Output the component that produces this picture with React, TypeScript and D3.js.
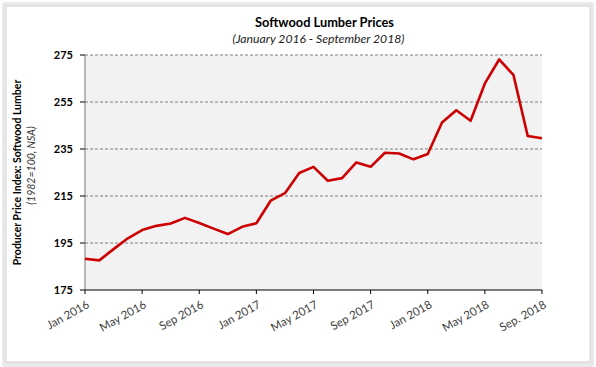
import React from "react";
import * as d3 from "d3";

const months: string[] = [
  "2016-01","2016-02","2016-03","2016-04","2016-05","2016-06","2016-07","2016-08","2016-09","2016-10","2016-11","2016-12",
  "2017-01","2017-02","2017-03","2017-04","2017-05","2017-06","2017-07","2017-08","2017-09","2017-10","2017-11","2017-12",
  "2018-01","2018-02","2018-03","2018-04","2018-05","2018-06","2018-07","2018-08","2018-09",
];
const values: number[] = [
  188.3, 187.6, 192.4, 197.0, 200.5, 202.3, 203.3, 205.7, 203.5, 201.1, 198.8, 201.9,
  203.4, 213.0, 216.2, 224.8, 227.4, 221.5, 222.6, 229.3, 227.4, 233.4, 233.1, 230.6,
  232.9, 246.3, 251.5, 247.0, 262.9, 273.1, 266.5, 240.5, 239.6,
];
const xTickIdx: number[] = [0, 4, 8, 12, 16, 20, 24, 28, 32];
const xTickLabels: string[] = ["Jan 2016","May 2016","Sep 2016","Jan 2017","May 2017","Sep 2017","Jan 2018","May 2018","Sep. 2018"];
const yTicks: number[] = [175, 195, 215, 235, 255, 275];

const W = 596, H = 367;
const left = 85, right = 542, top = 55, bottom = 290;
const FONT = "Lato, 'Open Sans', sans-serif";

export default function App() {
  const x = d3.scaleLinear().domain([0, months.length - 1]).range([left, right]);
  const y = d3.scaleLinear().domain([175, 275]).range([bottom, top]);
  const line = d3.line<number>().x((_, i) => x(i)).y((d) => y(d));
  const cy = (top + bottom) / 2;

  return (
    <svg width={W} height={H} style={{ position: "absolute", left: 0, top: 0 }} fontFamily={FONT}>
      <rect x={0} y={0} width={W} height={H} fill="#ffffff" />
      <rect x={2} y={2} width={W - 4} height={H - 2} fill="#e9e9e9" rx={3} />
      <rect x={6} y={6} width={584} height={356} fill="#ffffff" stroke="#d4d4d4" strokeWidth={1} />

      <text x={(left + right) / 2 + 11} y={27} textAnchor="middle" fontWeight="bold" fontSize={12.8} fill="#000">
        Softwood Lumber Prices
      </text>
      <text x={(left + right) / 2 + 5} y={43} textAnchor="middle" fontStyle="italic" fontSize={12.2} fill="#222">
        (January 2016 - September 2018)
      </text>

      <rect x={left} y={top} width={right - left} height={bottom - top} fill="#f2f2f2" />

      {yTicks.filter((t) => t !== 175).map((t) => (
        <line key={"g" + t} x1={left} x2={right} y1={y(t)} y2={y(t)} stroke="#7f7f7f" strokeWidth={1} strokeDasharray="3,2" />
      ))}

      <line x1={left} x2={left} y1={top} y2={bottom} stroke="#8c8c8c" strokeWidth={1.2} />
      <line x1={left} x2={right} y1={bottom} y2={bottom} stroke="#000" strokeWidth={1.2} />

      {yTicks.map((t) => (
        <g key={"y" + t}>
          <line x1={left - 5} x2={left} y1={y(t)} y2={y(t)} stroke="#000" strokeWidth={1} />
          <text x={left - 12} y={y(t)} dy="0.35em" textAnchor="end" fontWeight="bold" fontSize={11} fill="#000">
            {t}
          </text>
        </g>
      ))}

      {xTickIdx.map((i, k) => (
        <g key={"x" + i}>
          <line x1={x(i)} x2={x(i)} y1={bottom} y2={bottom + 4} stroke="#000" strokeWidth={1} />
          <text
            transform={`translate(${x(i) + 5},${bottom + 17}) rotate(-29)`}
            textAnchor="end"
            fontSize={11.5}
            fill="#404040"
          >
            {xTickLabels[k]}
          </text>
        </g>
      ))}

      <path d={line(values) || ""} fill="none" stroke="#cc0000" strokeWidth={2.6} strokeLinejoin="round" />

      <text transform={`translate(21,${cy}) rotate(-90)`} textAnchor="middle" fontWeight="bold" fontSize={10.5} fill="#000">
        Producer Price Index: Softwood Lumber
      </text>
      <text transform={`translate(35,${cy - 7}) rotate(-90)`} textAnchor="middle" fontStyle="italic" fontSize={10.5} fill="#333">
        (1982=100, NSA)
      </text>
    </svg>
  );
}
